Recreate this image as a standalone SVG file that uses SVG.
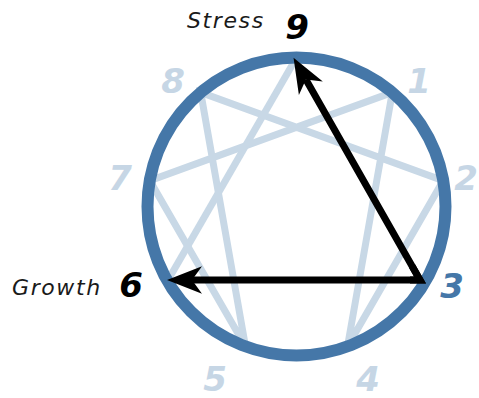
<svg xmlns="http://www.w3.org/2000/svg" width="479" height="398" viewBox="0 0 479 398">
<style>
.fig{stroke:#c8d8e6;stroke-width:7;fill:none;stroke-linecap:butt}
.ring{stroke:#4577a8;stroke-width:12;fill:none}
.num{font-family:"DejaVu Sans",Verdana,sans-serif;font-weight:bold;font-style:italic;font-size:34px;text-anchor:middle}
.light{fill:#c6d6e5}
.lbl{font-family:"DejaVu Sans",Verdana,sans-serif;font-style:italic;font-size:22px;fill:#1a1a1a;letter-spacing:1.6px}
.arr{stroke:#000;stroke-width:7;fill:none;stroke-linejoin:miter}
</style>
<defs>
<marker id="ah" markerUnits="userSpaceOnUse" orient="auto" refX="0" refY="0" markerWidth="40" markerHeight="40" viewBox="-10 -12 32 24" overflow="visible">
<path d="M20,0 L-8,-11 L0,0 L-8,11 Z" fill="#000"/>
</marker>
</defs>
<g id="figure">
<line class="fig" x1="296.5" y1="57.5" x2="167.5" y2="281"/>
<polyline class="fig" points="392.3,92.4 347.5,346.5 443.2,180.6 200.7,92.4 245.5,346.5 149.8,180.6 392.3,92.4"/>
</g>
<g id="ring"><circle class="ring" cx="296.5" cy="206.5" r="149"/></g>
<g id="connectors">
<path id="c39" class="arr" d="M410,280 L420,280 L305.9,79.6" marker-end="url(#ah)"/>
<path id="c36" class="arr" d="M412,266 L420,280 L192,280" marker-end="url(#ah)"/>
</g>
<g id="n9"><text class="num" x="297" y="39" fill="#000">9</text><text class="lbl" x="187" y="28">Stress</text></g>
<g id="n1"><text class="num light" x="419" y="93">1</text></g>
<g id="n2"><text class="num light" x="466" y="190">2</text></g>
<g id="n3"><text class="num" x="452" y="298" fill="#4577a8">3</text></g>
<g id="n4"><text class="num light" x="368" y="391">4</text></g>
<g id="n5"><text class="num light" x="215" y="391">5</text></g>
<g id="n6"><text class="num" x="131" y="297" fill="#000">6</text><text class="lbl" x="12" y="295">Growth</text></g>
<g id="n7"><text class="num light" x="120" y="190">7</text></g>
<g id="n8"><text class="num light" x="173" y="93">8</text></g>
</svg>
